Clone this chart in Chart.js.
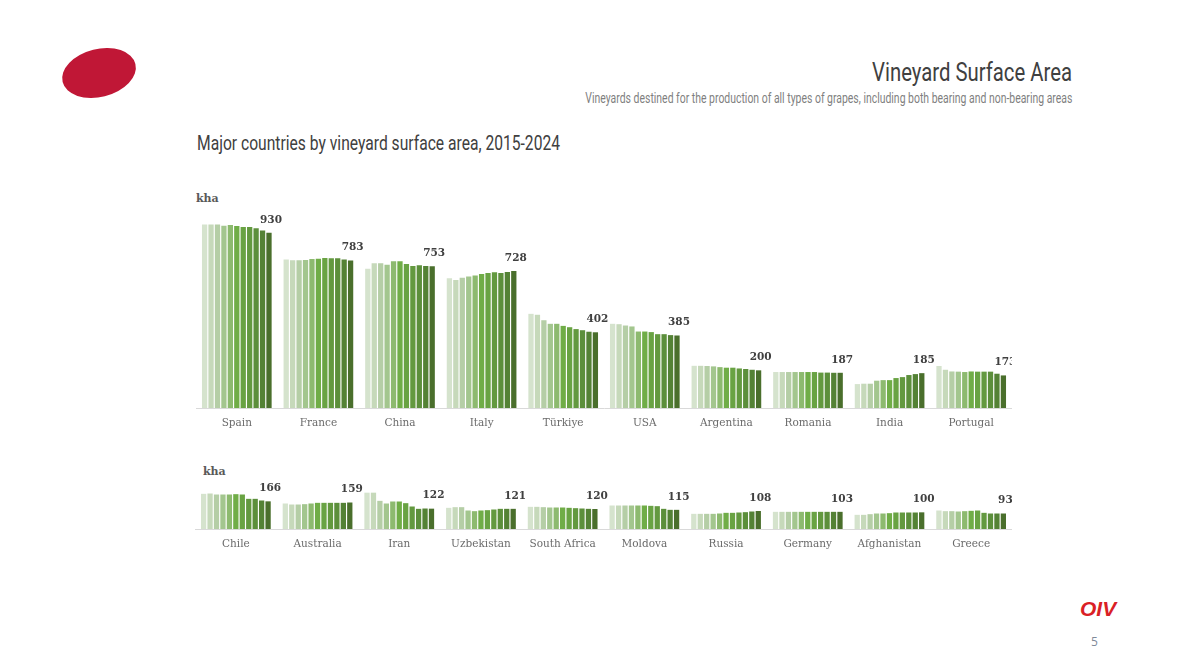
<!DOCTYPE html>
<html><head><meta charset="utf-8">
<script src="https://cdn.jsdelivr.net/npm/chart.js@4"></script>
<style>
html,body{margin:0;padding:0;background:#fff;width:1190px;height:669px;overflow:hidden}
.t{position:absolute;white-space:nowrap;line-height:1}
.fit{font-family:"Liberation Sans Narrow","Roboto",sans-serif}
canvas{position:absolute}
.wrap{position:absolute}
</style></head><body>
<svg style="position:absolute;left:50px;top:35px" width="100" height="75"><ellipse cx="49" cy="38" rx="37.5" ry="24" transform="rotate(-14 49 38)" fill="#C01736"/></svg>
<div class="t fit" data-w="200" data-a="r" style="right:118px;top:59px;font-size:26px;color:#404040">Vineyard Surface Area</div>
<div class="t fit" data-w="487" data-a="r" style="right:118px;top:91px;font-size:14px;color:#7f7f7f">Vineyards destined for the production of all types of grapes, including both bearing and non-bearing areas</div>
<div class="t fit" data-w="363" data-a="l" style="left:197px;top:133px;font-size:21px;color:#404040">Major countries by vineyard surface area, 2015-2024</div>
<div class="t" style="left:196px;top:192px;font:bold 11px 'DejaVu Serif',serif;color:#595959">kha</div>
<div class="t" style="left:203px;top:465px;font:bold 11px 'DejaVu Serif',serif;color:#595959">kha</div>
<div class="t" style="left:1080px;top:597px;font:italic bold 21px 'Liberation Sans',sans-serif;color:#DA1F26">OIV</div>
<div class="t" style="left:1091px;top:633px;font:12px 'Open Sans',sans-serif;color:#7f8a99">5</div>
<div class="wrap" style="left:196px;top:182px;width:816px;height:256px"><canvas id="c1"></canvas></div>
<div class="wrap" style="left:195px;top:479px;width:817px;height:80px"><canvas id="c2"></canvas></div>
<script>
const years = ['2014','2015','2016','2017','2018','2019','2020','2021','2022','2023','2024'];
const colours = ['#D5E3CD','#C6D9BA','#B5CEA6','#A3C68E','#8DBA6F','#70AD47','#69A343','#63993F','#5C8F3B','#548235','#4A6F2C'];

const majorCountries = ['Spain','France','China','Italy','Türkiye','USA','Argentina','Romania','India','Portugal'];
const spain     = [975,975,975,968,972,966,961,961,954,943,930];
const france    = [788,784,784,786,791,793,797,795,795,788,783];
const china     = [740,768,768,760,779,779,765,754,758,754,753];
const italy     = [689,680,691,698,703,712,717,721,717,722,728];
const turkiye   = [500,495,466,447,447,436,429,419,413,405,402];
const usa       = [447,445,438,433,406,406,403,392,392,387,385];
const argentina = [224,224,223,221,217,214,214,210,207,203,200];
const romania   = [191,191,191,191,191,191,191,188,188,187,187];
const india     = [127,129,129,145,148,148,159,164,175,180,185];
const portugal  = [223,203,194,193,191,194,193,193,193,182,173];
const majorRows = [spain,france,china,italy,turkiye,usa,argentina,romania,india,portugal];

const otherCountries = ['Chile','Australia','Iran','Uzbekistan','South Africa','Moldova','Russia','Germany','Afghanistan','Greece'];
const chile       = [211,213,207,207,207,209,207,181,181,171,166];
const australia   = [153,147,147,149,153,157,157,157,157,157,159];
const iran        = [218,218,169,153,165,165,155,135,121,123,122];
const uzbekistan  = [127,131,131,111,107,111,113,117,121,121,121];
const southAfrica = [133,133,131,129,129,129,127,125,123,121,120];
const moldova     = [141,141,141,141,141,141,139,137,121,115,115];
const russia      = [91,91,91,91,93,97,97,99,101,105,108];
const germany     = [103,103,103,103,103,103,103,103,103,103,103];
const afghanistan = [85,85,89,93,93,95,99,99,99,99,100];
const greece      = [111,107,107,105,107,109,111,97,93,93,93];
const otherRows = [chile,australia,iran,uzbekistan,southAfrica,moldova,russia,germany,afghanistan,greece];

const lastLabel = {
  id:'lastLabel',
  afterDatasetsDraw(chart){
    const ctx = chart.ctx, last = chart.data.datasets.length-1;
    const meta = chart.getDatasetMeta(last);
    ctx.save();
    ctx.font = 'bold 10.5px "DejaVu Serif",serif';
    ctx.fillStyle = '#404040';
    ctx.textAlign = 'center';
    ctx.textBaseline = 'middle';
    meta.data.forEach((el,i)=>{
      ctx.fillText(String(chart.data.datasets[last].data[i]), el.x+2, el.y-13);
    });
    ctx.restore();
  }
};
function build(id, cats, rows, yMax){
  new Chart(document.getElementById(id),{
    type:'bar',
    data:{labels:cats,datasets:years.map((y,k)=>({
      label:y,data:rows.map(r=>r[k]),backgroundColor:colours[k],
      barPercentage:0.82,categoryPercentage:0.868,borderWidth:0}))},
    options:{
      responsive:true,maintainAspectRatio:false,animation:false,
      layout:{padding:0},
      plugins:{legend:{display:false},title:{display:false},tooltip:{enabled:false}},
      scales:{
        y:{display:false,min:0,max:yMax},
        x:{grid:{display:false,drawTicks:false},
           border:{color:'#D9D9D9',width:1},
           afterFit(s){s.height=30},
           ticks:{color:'#6b6b6b',padding:9,maxRotation:0,autoSkip:false,
                  font:{family:'"DejaVu Serif",serif',size:10.5}}}
      }
    },
    plugins:[lastLabel]
  });
}
build('c1',majorCountries,majorRows,1200);
build('c2',otherCountries,otherRows,300);
document.querySelectorAll('.fit').forEach(e=>{
  const w=e.getBoundingClientRect().width, s=+e.dataset.w/w;
  e.style.transformOrigin=e.dataset.a==='r'?'right center':'left center';
  e.style.transform='scaleX('+s+')';
});
</script>
</body></html>
